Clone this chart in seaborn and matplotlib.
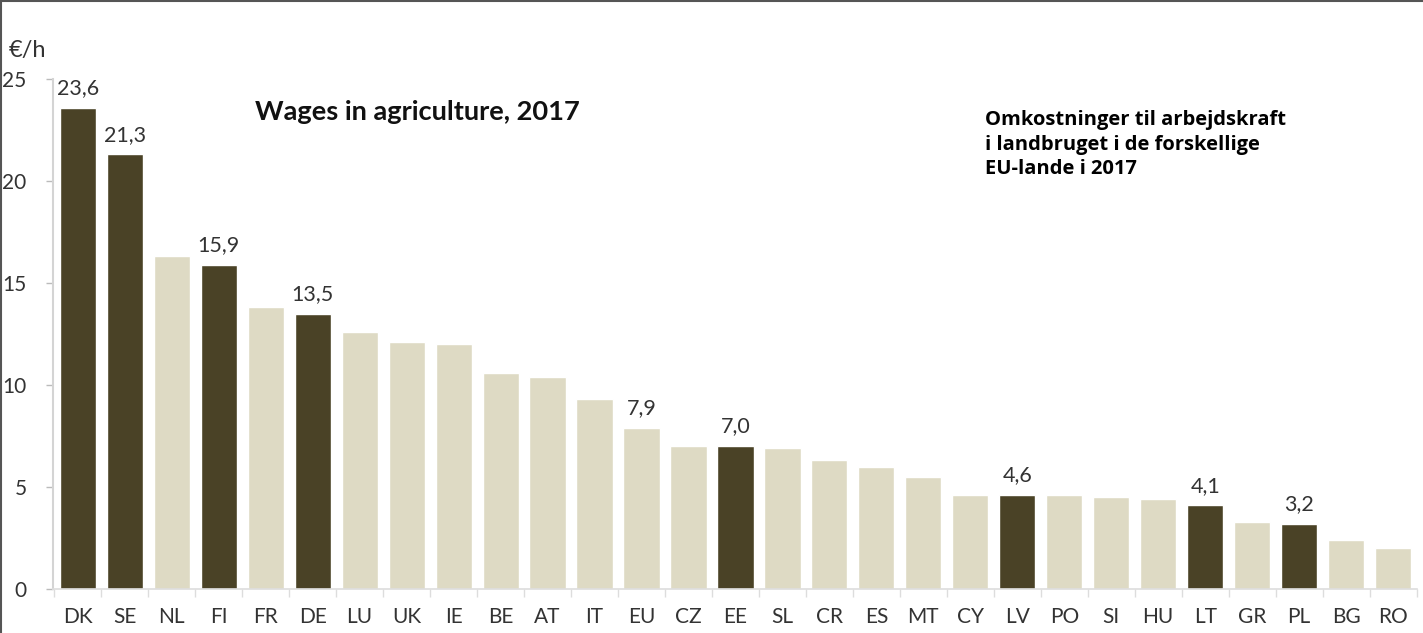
import matplotlib
matplotlib.use("Agg")
import matplotlib.pyplot as plt
from matplotlib.ticker import FixedLocator
from matplotlib.lines import Line2D
import seaborn as sns

countries = ["DK", "SE", "NL", "FI", "FR", "DE", "LU", "UK", "IE", "BE", "AT", "IT",
             "EU", "CZ", "EE", "SL", "CR", "ES", "MT", "CY", "LV", "PO", "SI", "HU",
             "LT", "GR", "PL", "BG", "RO"]
wages = [23.6, 21.3, 16.3, 15.9, 13.8, 13.5, 12.6, 12.1, 12.0, 10.6, 10.4, 9.3,
         7.9, 7.0, 7.0, 6.9, 6.3, 6.0, 5.5, 4.6, 4.6, 4.6, 4.5, 4.4,
         4.1, 3.3, 3.2, 2.4, 2.0]
highlighted = ["DK", "SE", "FI", "DE", "EE", "LV", "LT", "PL"]
labelled = ["DK", "SE", "FI", "DE", "EU", "EE", "LV", "LT", "PL"]
y_ticks = [0, 5, 10, 15, 20, 25]

dark = "#4a4226"
light = "#dedac4"
text_col = "#333333"

sns.set_style("white")
plt.rcParams["font.family"] = ["Lato", "DejaVu Sans"]

fig = plt.figure(figsize=(14.23, 6.33), dpi=100)
ax = fig.add_axes([0.0372, 0.0695, 0.9586, 0.8057])

palette = {c: (dark if c in highlighted else light) for c in countries}
sns.barplot(x=countries, y=wages, hue=countries, palette=palette, legend=False,
            width=0.77, saturation=1, ax=ax)

# value labels above selected bars
for patch, c, v in zip(ax.patches, countries, wages):
    if c in labelled:
        ax.annotate(f"{v:.1f}".replace(".", ","),
                    (patch.get_x() + patch.get_width() / 2, v),
                    xytext=(0, 7), textcoords="offset points",
                    ha="center", va="bottom", fontsize=15.5, color=text_col)

ax.set_xlim(-0.53, len(countries) - 0.49)
ax.set_ylim(0, 25)
ax.set_yticks(y_ticks)
ax.set_yticklabels([str(t) for t in y_ticks], fontsize=15, color=text_col)
ax.tick_params(axis="y", which="major", length=5, width=1, color="#bbbbbb",
               direction="out", pad=14, left=True)
ax.tick_params(axis="x", which="major", length=0, labelsize=15,
               labelcolor=text_col, pad=13)
ax.xaxis.set_minor_locator(FixedLocator([i - 0.5 for i in range(len(countries) + 1)]))
ax.tick_params(axis="x", which="minor", length=6, width=1, color="#dddddd",
               direction="out", bottom=True)

for side in ["top", "right"]:
    ax.spines[side].set_visible(False)
ax.spines["left"].set_color("#d4d4d4")
ax.spines["left"].set_linewidth(1.5)
ax.spines["bottom"].set_color("#dddddd")
ax.spines["bottom"].set_linewidth(1.2)
ax.set_xlabel("")
ax.set_ylabel("")

fig.text(0.006, 0.921, "€/h", fontsize=17, color=text_col, ha="left", va="center")
fig.text(0.179, 0.823, "Wages in agriculture, 2017", fontsize=19.6,
         fontweight="bold", color="#111111", ha="left", va="center")
fig.text(0.692, 0.826, "Omkostninger til arbejdskraft\ni landbruget i de forskellige\nEU-lande i 2017",
         fontsize=14.5, fontweight="bold", color="#000000", ha="left", va="top",
         linespacing=1.3, family=["Open Sans", "DejaVu Sans"])

# thin frame along the left and top edges
fig.add_artist(Line2D([0.0007, 0.0007], [0, 1], transform=fig.transFigure,
                      color="#555555", linewidth=1.5))
fig.add_artist(Line2D([0, 1], [0.9985, 0.9985], transform=fig.transFigure,
                      color="#555555", linewidth=1.5))

fig.savefig("out.png", dpi=100)
